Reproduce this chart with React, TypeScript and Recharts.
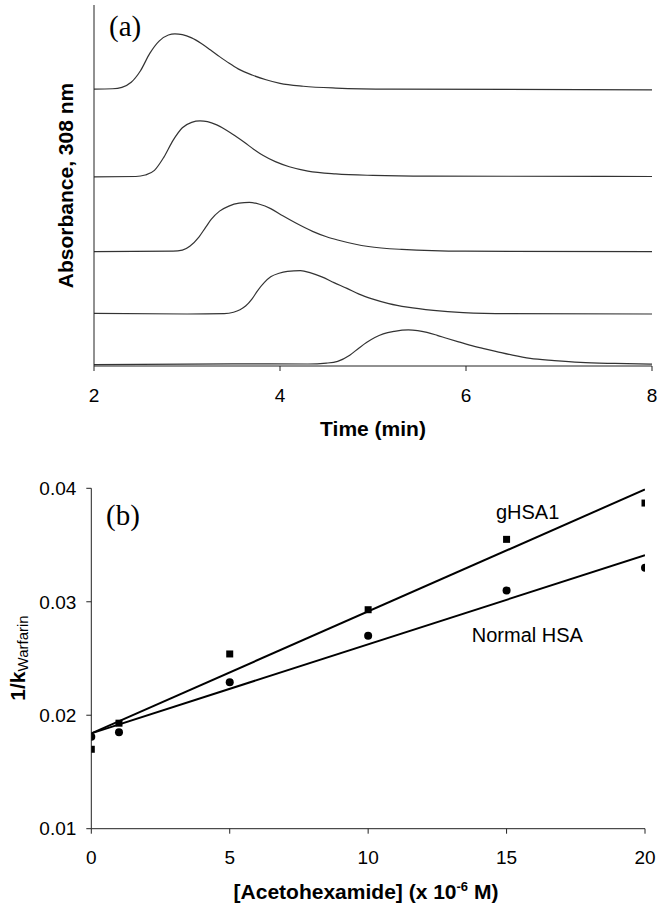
import {
  LineChart,
  Line,
  ComposedChart,
  Scatter,
  XAxis,
  YAxis,
  ReferenceDot
} from 'recharts';

// (a) chromatograms, time in min, absorbance in arbitrary offset units (0-100 full axis)
const trace1Time = [2.0, 2.2, 2.3, 2.4, 2.5, 2.6, 2.7, 2.8, 2.87, 2.95, 3.05, 3.15, 3.25, 3.35, 3.45, 3.55, 3.7, 3.85, 4.0, 4.25, 4.6, 5.2, 8.0];
const trace1Abs = [76.7, 76.8, 77.2, 78.6, 81.8, 86.6, 90.0, 91.7, 92.0, 91.8, 90.9, 89.4, 87.6, 85.7, 83.9, 82.3, 80.6, 79.3, 78.3, 77.5, 77.0, 76.7, 76.5];

const trace2Time = [2.0, 2.45, 2.55, 2.65, 2.75, 2.85, 2.95, 3.05, 3.14, 3.22, 3.32, 3.42, 3.52, 3.62, 3.72, 3.82, 3.95, 4.1, 4.3, 4.6, 5.0, 5.6, 8.0];
const trace2Abs = [52.4, 52.5, 52.9, 54.2, 57.8, 62.5, 66.0, 67.5, 67.9, 67.7, 66.8, 65.4, 63.7, 61.9, 60.0, 58.3, 56.6, 55.2, 54.0, 53.2, 52.8, 52.6, 52.5];

const trace3Time = [2.0, 2.85, 2.95, 3.03, 3.13, 3.2, 3.26, 3.35, 3.45, 3.56, 3.67, 3.78, 3.9, 4.03, 4.17, 4.35, 4.5, 4.62, 4.8, 4.95, 5.31, 5.99, 8.0];
const trace3Abs = [31.7, 31.8, 32.1, 33.2, 35.8, 38.4, 40.6, 42.9, 44.3, 45.1, 45.3, 44.8, 43.6, 41.6, 39.6, 37.3, 35.8, 34.9, 33.8, 33.1, 32.3, 31.8, 31.7];

const trace4Time = [2.0, 3.0, 3.4, 3.5, 3.57, 3.63, 3.7, 3.76, 3.83, 3.9, 3.99, 4.08, 4.22, 4.33, 4.45, 4.58, 4.72, 4.85, 4.99, 5.17, 5.37, 5.65, 5.97, 6.45, 8.0];
const trace4Abs = [14.6, 14.4, 14.5, 14.9, 15.6, 16.6, 18.6, 20.9, 23.1, 24.7, 25.7, 26.2, 26.4, 25.8, 24.7, 23.1, 21.5, 19.9, 18.6, 17.3, 16.3, 15.4, 14.8, 14.5, 14.4];

const trace5Time = [2.0, 3.49, 4.3, 4.5, 4.62, 4.75, 4.85, 4.93, 5.02, 5.11, 5.23, 5.38, 5.48, 5.58, 5.69, 5.79, 5.92, 6.04, 6.18, 6.33, 6.5, 6.69, 6.95, 7.23, 7.6, 8.0];
const trace5Abs = [0.4, 0.6, 0.55, 0.8, 1.3, 3.0, 5.0, 6.5, 7.9, 8.9, 9.6, 10.0, 9.8, 9.3, 8.5, 7.7, 6.7, 5.8, 4.9, 4.0, 3.0, 2.1, 1.5, 1.0, 0.7, 0.5];

const timeTicks = [2, 4, 6, 8];

// (b) 1/k warfarin vs acetohexamide concentration
const concentrations = [0, 1, 5, 10, 15, 20];
const gHsaValues = [0.017, 0.0193, 0.0254, 0.0293, 0.0355, 0.0387];
const normalHsaValues = [0.0181, 0.0185, 0.0229, 0.027, 0.031, 0.033];

// fitted lines, end points
const fitX = [0, 20];
const gHsaFit = [0.0184, 0.0399];
const normalHsaFit = [0.0184, 0.0341];

const concTicks = [0, 5, 10, 15, 20];
const kTicks = [0.01, 0.02, 0.03, 0.04];

const SANS = '"Liberation Sans", Arial, sans-serif';
const SERIF = '"Liberation Serif", "Times New Roman", serif';
const AXIS = '#222';

const zip = (xs: number[], ys: number[], kx: string, ky: string) =>
  xs.map((x, i) => ({ [kx]: x, [ky]: ys[i] }));

const traces = [
  zip(trace1Time, trace1Abs, 't', 'a'),
  zip(trace2Time, trace2Abs, 't', 'a'),
  zip(trace3Time, trace3Abs, 't', 'a'),
  zip(trace4Time, trace4Abs, 't', 'a'),
  zip(trace5Time, trace5Abs, 't', 'a')
];

const gHsaPoints = zip(concentrations, gHsaValues, 'x', 'y');
const normalPoints = zip(concentrations, normalHsaValues, 'x', 'y');
const gHsaLine = zip(fitX, gHsaFit, 'x', 'y');
const normalLine = zip(fitX, normalHsaFit, 'x', 'y');

const tickStyle = { fill: '#000', fontSize: 19, fontFamily: SANS };

// eslint-disable-next-line @typescript-eslint/no-explicit-any
const SquareDot = (props: any) => (
  <rect x={props.cx - 3.5} y={props.cy - 3.5} width={7} height={7} fill="#000" />
);
// eslint-disable-next-line @typescript-eslint/no-explicit-any
const RoundDot = (props: any) => <circle cx={props.cx} cy={props.cy} r={4} fill="#000" />;

export default function App() {
  return (
    <div style={{ position: 'absolute', left: 0, top: 0, width: 661, height: 913, background: '#fff' }}>
      <div style={{ position: 'absolute', left: 0, top: 0 }}>
        <LineChart width={661} height={470} margin={{ top: 5, right: 9, left: 64, bottom: 74 }}>
          <XAxis
            type="number"
            dataKey="t"
            domain={[2, 8]}
            ticks={timeTicks}
            allowDataOverflow
            height={30}
            tick={tickStyle}
            tickSize={5}
            tickMargin={18}
            tickLine={{ stroke: AXIS }}
            axisLine={{ stroke: AXIS }}
          />
          <YAxis
            type="number"
            domain={[0, 100]}
            allowDataOverflow
            width={30}
            tick={false}
            tickLine={false}
            axisLine={{ stroke: AXIS }}
          />
          {traces.map((d, i) => (
            <Line
              key={`trace-${i}`}
              data={d}
              dataKey="a"
              type="monotone"
              stroke="#333"
              strokeWidth={1.2}
              dot={false}
              isAnimationActive={false}
            />
          ))}
        </LineChart>
      </div>

      <div style={{ position: 'absolute', left: 0, top: 460 }}>
        <ComposedChart width={661} height={453} margin={{ top: 28.3, right: 16, left: 31.3, bottom: 54.3 }}>
          <XAxis
            type="number"
            dataKey="x"
            domain={[0, 20]}
            ticks={concTicks}
            allowDataOverflow
            height={30}
            tick={tickStyle}
            tickSize={5}
            tickMargin={17}
            tickLine={{ stroke: AXIS }}
            axisLine={{ stroke: AXIS }}
          />
          <YAxis
            type="number"
            domain={[0.01, 0.04]}
            ticks={kTicks}
            allowDataOverflow
            width={60}
            tick={tickStyle}
            tickSize={5}
            tickMargin={10}
            tickFormatter={(v: number) => v.toFixed(2)}
            tickLine={{ stroke: AXIS }}
            axisLine={{ stroke: AXIS }}
          />
          <Line data={gHsaLine} dataKey="y" type="linear" stroke="#000" strokeWidth={2} dot={false} isAnimationActive={false} />
          <Line data={normalLine} dataKey="y" type="linear" stroke="#000" strokeWidth={2} dot={false} isAnimationActive={false} />
          <Scatter data={gHsaPoints} dataKey="y" shape={SquareDot} isAnimationActive={false} />
          <Scatter data={normalPoints} dataKey="y" shape={RoundDot} isAnimationActive={false} />
          <ReferenceDot
            x={15.76}
            y={0.03794}
            r={0}
            fill="none"
            stroke="none"
            label={{ value: 'gHSA1', position: 'center', fill: '#000', fontSize: 20, fontFamily: SANS }}
          />
          <ReferenceDot
            x={15.75}
            y={0.02707}
            r={0}
            fill="none"
            stroke="none"
            label={{ value: 'Normal HSA', position: 'center', fill: '#000', fontSize: 20, fontFamily: SANS }}
          />
        </ComposedChart>
      </div>

      {/* axis titles and panel labels */}
      <svg width={661} height={913} style={{ position: 'absolute', left: 0, top: 0, pointerEvents: 'none' }}>
        <text x={109} y={35.5} fontFamily={SERIF} fontSize={29} fill="#000">(a)</text>
        <text x={106} y={525} fontFamily={SERIF} fontSize={29} fill="#000">(b)</text>
        <text
          x={73}
          y={185.5}
          transform="rotate(-90 73 185.5)"
          textAnchor="middle"
          fontFamily={SANS}
          fontWeight="bold"
          fontSize={21}
          fill="#000"
        >
          Absorbance, 308 nm
        </text>
        <text x={373} y={436} textAnchor="middle" fontFamily={SANS} fontWeight="bold" fontSize={21} fill="#000">
          Time (min)
        </text>
        <text
          x={25}
          y={658}
          transform="rotate(-90 25 658)"
          textAnchor="middle"
          fontFamily={SANS}
          fill="#000"
        >
          <tspan fontWeight="bold" fontSize={21}>1/k</tspan>
          <tspan fontSize={15} dy={3}>Warfarin</tspan>
        </text>
        <text x={366} y={899} textAnchor="middle" fontFamily={SANS} fontWeight="bold" fontSize={21} fill="#000">
          [Acetohexamide] (x 10
          <tspan fontSize={13} dy={-8}>-6</tspan>
          <tspan dy={8}> M)</tspan>
        </text>
      </svg>
    </div>
  );
}
